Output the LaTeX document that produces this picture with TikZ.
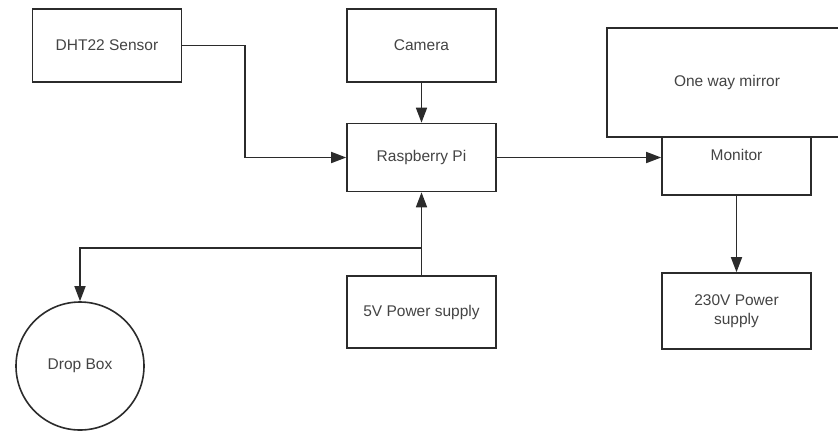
\documentclass[tikz,border=0pt]{standalone}
\usepackage{fontspec}
\setmainfont{Liberation Sans}
\usetikzlibrary{arrows.meta,positioning}
\definecolor{ink}{HTML}{444444}
\definecolor{wire}{HTML}{2B2B2B}

\begin{document}
\begin{tikzpicture}[x=1pt,y=1pt,
  font=\fontsize{15.5}{19.5}\selectfont, text=ink,
  box/.style={draw=wire,line width=1.6pt,fill=white,align=center,
              minimum width=149pt,inner sep=2pt},
  roundbox/.style={circle,draw=wire,line width=1.6pt,fill=white,
              minimum size=128pt,inner sep=0pt},
  flow/.style={-{Triangle[length=15pt,width=11pt]},draw=wire,line width=1.6pt}
]
% canvas of the reference, 838 x 432 px
\path[use as bounding box] (0,0) rectangle (838,-432);

\node[box,minimum height=73pt] (dht) at (107,-45.5) {DHT22 Sensor};
\node[box,minimum height=73pt] (camera) at (421.5,-45.5) {Camera};
\node[box,minimum height=68pt] (rpi) at (421.5,-157.5) {Raspberry Pi};
\node[box,minimum height=80pt] (monitor) at (736.5,-155) {Monitor};
\node[box,minimum width=240pt,minimum height=109pt] (mirror) at (727,-82.5) {One way mirror};
\node[box,minimum height=72pt] (psfive) at (421.5,-312) {5V Power supply};
\node[box,minimum height=76pt] (pstwo) at (736.5,-311) {230V Power\\supply};
\node[roundbox] (dropbox) at (80,-366) {Drop Box};

\coordinate (dhtbend) at (245,-45.5);
\coordinate (split) at (421.5,-248);

\draw[flow] (dht.east) -- (dhtbend) |- (rpi.west);
\draw[flow] (camera.south) -- (rpi.north);
\draw[flow] (rpi.east) -- (rpi.east -| monitor.west);
\draw[flow] (monitor.south) -- (pstwo.north);
\draw[flow] (psfive.north) -- (rpi.south);
\draw[flow] (split) -| (dropbox.north);
\end{tikzpicture}
\end{document}
